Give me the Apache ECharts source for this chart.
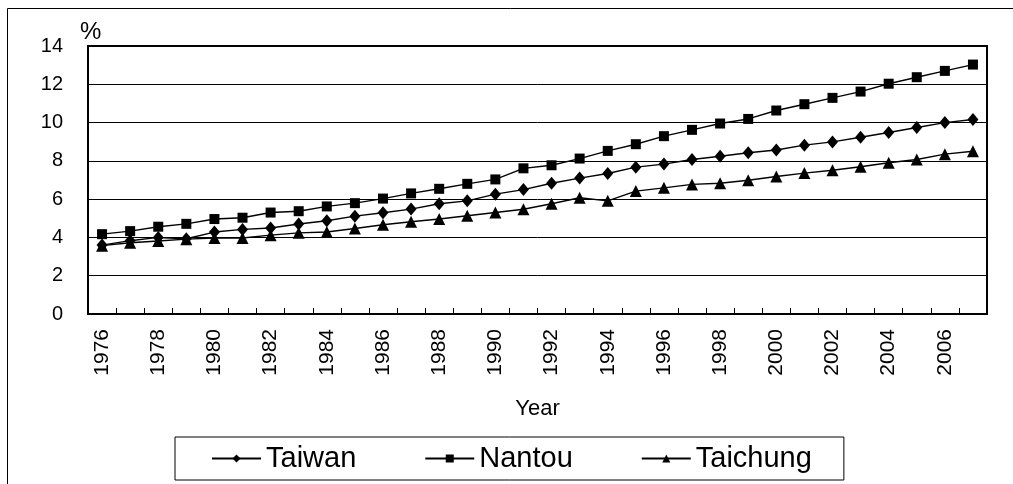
<!DOCTYPE html>
<html>
<head>
<meta charset="utf-8">
<script src="https://cdn.jsdelivr.net/npm/echarts@6/dist/echarts.min.js"></script>
<style>
html,body{margin:0;padding:0;background:#fff;}
#chart{width:1013px;height:484px;}
</style>
</head>
<body>
<div id="chart"></div>
<script>
const years = [];
for (let y = 1976; y <= 2007; y++) years.push(String(y));
const taiwan = [3.60,3.83,4.00,3.93,4.28,4.42,4.49,4.70,4.87,5.11,5.29,5.48,5.76,5.91,6.26,6.50,
                6.83,7.10,7.34,7.67,7.83,8.07,8.24,8.42,8.57,8.82,8.99,9.23,9.48,9.74,10.00,10.16];
const nantou = [4.17,4.33,4.56,4.71,4.96,5.03,5.30,5.37,5.62,5.79,6.03,6.30,6.54,6.80,7.03,7.61,
                7.77,8.12,8.52,8.87,9.29,9.62,9.95,10.19,10.63,10.96,11.29,11.62,12.03,12.37,12.70,13.03];
const taichung = [3.57,3.72,3.81,3.91,3.97,3.97,4.12,4.24,4.28,4.47,4.66,4.82,4.96,5.13,5.30,5.47,
                  5.76,6.07,5.91,6.42,6.59,6.77,6.83,6.99,7.18,7.36,7.51,7.69,7.90,8.07,8.35,8.50];
const yTicks = [0, 2, 4, 6, 8, 10, 12, 14];

const FONT = 'Liberation Sans, Arial, sans-serif';
const chart = echarts.init(document.getElementById('chart'), null, {renderer: 'canvas'});

function lineSeries(name, data, symbol, size) {
  return {
    name: name, type: 'line', data: data,
    symbol: symbol, symbolSize: size, showSymbol: true,
    lineStyle: {color: '#000', width: 1.4},
    itemStyle: {color: '#000', borderWidth: 0},
    emphasis: {disabled: true},
    animation: false
  };
}

chart.setOption({
  backgroundColor: '#fff',
  animation: false,
  graphic: [{
    type: 'rect', left: 5, top: 6, silent: true,
    shape: {width: 1020, height: 490},
    style: {fill: 'none', stroke: '#000', lineWidth: 1}
  }],
  grid: {
    left: 88, right: 26, top: 46, bottom: 170,
    show: true, borderColor: '#000', borderWidth: 2, backgroundColor: 'transparent'
  },
  legend: {
    data: ['Taiwan', 'Nantou', 'Taichung'],
    left: 175, top: 437,
    padding: [7, 32, 7, 36],
    itemGap: 68,
    itemWidth: 49, itemHeight: 10,
    borderColor: '#000', borderWidth: 1,
    textStyle: {fontFamily: FONT, fontSize: 29, color: '#000'}
  },
  xAxis: {
    type: 'category', data: years, boundaryGap: true,
    name: 'Year', nameLocation: 'middle', nameGap: 84,
    nameTextStyle: {fontFamily: FONT, fontSize: 22, color: '#000'},
    axisLine: {lineStyle: {color: '#000', width: 2}},
    axisTick: {show: true, inside: true, length: 6, interval: 0, lineStyle: {color: '#000', width: 1}},
    axisLabel: {interval: 1, rotate: 90, margin: 15, fontFamily: FONT, fontSize: 21, color: '#000'},
    splitLine: {show: false}
  },
  yAxis: {
    type: 'value', min: yTicks[0], max: yTicks[yTicks.length - 1], interval: 2,
    name: '%', nameGap: 2,
    nameTextStyle: {fontFamily: FONT, fontSize: 24, color: '#000', align: 'left', padding: [0, 0, 0, -8]},
    axisLine: {show: true, lineStyle: {color: '#000', width: 2}},
    axisTick: {show: false},
    axisLabel: {margin: 25, fontFamily: FONT, fontSize: 20, color: '#000'},
    splitLine: {show: true, lineStyle: {color: '#000', width: 1}}
  },
  series: [
    lineSeries('Taiwan', taiwan, 'diamond', [11, 13]),
    lineSeries('Nantou', nantou, 'rect', 10),
    lineSeries('Taichung', taichung, 'triangle', 12)
  ]
});
</script>
</body>
</html>
